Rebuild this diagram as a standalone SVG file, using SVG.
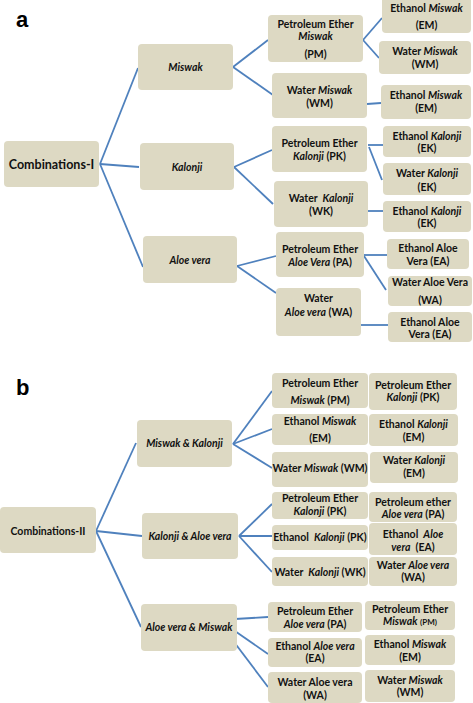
<svg xmlns="http://www.w3.org/2000/svg" width="473" height="703" viewBox="0 0 473 703">
<style>
.bx{fill:#DDD9C3;}
text{font-family:Lato,"Open Sans","Liberation Sans",sans-serif;font-weight:bold;font-size:10.5px;fill:#111;text-anchor:middle;}
.i{font-style:italic;}
.big{font-size:12.5px;}
.lbl{font-family:"Liberation Sans",Arial,sans-serif;font-size:22px;text-anchor:start;fill:#000;}
.sm{font-size:8px;}
#connectors line{stroke:#4F81BD;stroke-width:1.8;fill:none;}
</style>
<rect width="473" height="703" fill="#fff"/>
<text class="lbl" x="16" y="27">a</text>
<text class="lbl" x="16" y="395">b</text>

<g id="connectors">
<line x1="100" y1="164" x2="138" y2="68"/>
<line x1="100" y1="164" x2="139" y2="167"/>
<line x1="100" y1="164" x2="143" y2="267"/>
<line x1="233" y1="67" x2="268" y2="40"/>
<line x1="233" y1="67" x2="273" y2="95"/>
<line x1="363" y1="40" x2="382" y2="18"/>
<line x1="363" y1="40" x2="379" y2="58"/>
<line x1="367" y1="104" x2="381" y2="103"/>
<line x1="234" y1="167" x2="272" y2="150"/>
<line x1="234" y1="167" x2="273" y2="204"/>
<line x1="368" y1="145" x2="383" y2="145"/>
<line x1="369" y1="147" x2="382" y2="180"/>
<line x1="368" y1="211" x2="383" y2="211"/>
<line x1="237" y1="266" x2="276" y2="256"/>
<line x1="237" y1="266" x2="276" y2="293"/>
<line x1="364" y1="255" x2="387" y2="255"/>
<line x1="364" y1="256" x2="386" y2="290"/>
<line x1="361" y1="325" x2="388" y2="325"/>
<line x1="96" y1="531" x2="136" y2="443"/>
<line x1="96" y1="531" x2="142" y2="536"/>
<line x1="96" y1="531" x2="141" y2="627"/>
<line x1="233" y1="444" x2="272" y2="391"/>
<line x1="233" y1="444" x2="272" y2="429"/>
<line x1="233" y1="444" x2="272" y2="468"/>
<line x1="239" y1="536" x2="272" y2="504"/>
<line x1="239" y1="536" x2="272" y2="536"/>
<line x1="239" y1="536" x2="272" y2="572"/>
<line x1="235" y1="619" x2="268" y2="617"/>
<line x1="232" y1="629" x2="268" y2="654"/>
<line x1="231" y1="638" x2="268" y2="687"/>
</g>

<g id="combI"><rect class="bx" x="4" y="141" width="95" height="46" rx="4"/><text class="big" x="51.5" y="168.5">Combinations-I</text></g>
<g id="miswak"><rect class="bx" x="138" y="44" width="95" height="46" rx="4"/><text class="i" x="185.5" y="71">Miswak</text></g>
<g id="kalonji"><rect class="bx" x="140" y="143" width="94" height="47" rx="4"/><text class="i" x="187" y="170.5">Kalonji</text></g>
<g id="aloevera"><rect class="bx" x="143" y="236" width="94" height="47" rx="4"/><text class="i" x="190" y="263.5">Aloe vera</text></g>

<g id="a-pm"><rect class="bx" x="268" y="15" width="95" height="47" rx="4"/><text x="315.5" y="27.5">Petroleum Ether</text><text class="i" x="315.5" y="39.5">Miswak</text><text x="315.5" y="57.5">(PM)</text></g>
<g id="a-em1"><rect class="bx" x="382" y="-3" width="89" height="36" rx="4"/><text x="426.5" y="11.5">Ethanol <tspan class="i">Miswak</tspan></text><text x="426.5" y="28.5">(EM)</text></g>
<g id="a-wm1"><rect class="bx" x="379" y="41" width="92" height="33" rx="4"/><text x="425" y="54.5">Water <tspan class="i">Miswak</tspan></text><text x="425" y="67.5">(WM)</text></g>
<g id="a-wm"><rect class="bx" x="272" y="73" width="95" height="45" rx="4"/><text x="319.5" y="93.5">Water <tspan class="i">Miswak</tspan></text><text x="319.5" y="106.5">(WM)</text></g>
<g id="a-em2"><rect class="bx" x="381" y="85" width="90" height="34" rx="4"/><text x="426" y="98.5">Ethanol <tspan class="i">Miswak</tspan></text><text x="426" y="111.5">(EM)</text></g>
<g id="a-pk"><rect class="bx" x="272" y="126" width="95" height="46" rx="4"/><text x="319.5" y="146.5">Petroleum Ether</text><text x="319.5" y="159.5"><tspan class="i">Kalonji</tspan> (PK)</text></g>
<g id="a-ek1"><rect class="bx" x="383" y="126" width="88" height="31" rx="4"/><text x="427" y="139.5">Ethanol <tspan class="i">Kalonji</tspan></text><text x="427" y="151.5">(EK)</text></g>
<g id="a-wek"><rect class="bx" x="383" y="163" width="88" height="32" rx="4"/><text x="427" y="177">Water <tspan class="i">Kalonji</tspan></text><text x="427" y="190.5">(EK)</text></g>
<g id="a-wk"><rect class="bx" x="274" y="181" width="94" height="46" rx="4"/><text x="321" y="201.5" xml:space="preserve">Water  <tspan class="i">Kalonji</tspan></text><text x="321" y="214.5">(WK)</text></g>
<g id="a-ek2"><rect class="bx" x="383" y="201" width="88" height="31" rx="4"/><text x="427" y="214.5">Ethanol <tspan class="i">Kalonji</tspan></text><text x="427" y="227">(EK)</text></g>
<g id="a-pa"><rect class="bx" x="276" y="232" width="88" height="45" rx="4"/><text x="320" y="252.5">Petroleum Ether</text><text x="320" y="265.5"><tspan class="i">Aloe Vera</tspan> (PA)</text></g>
<g id="a-ea1"><rect class="bx" x="387" y="239" width="82" height="30" rx="4"/><text x="428" y="251.5">Ethanol Aloe</text><text x="428" y="264.5">Vera (EA)</text></g>
<g id="a-wa1"><rect class="bx" x="388" y="276" width="84" height="30" rx="4"/><text x="430" y="285.5">Water Aloe Vera</text><text x="430" y="303.5">(WA)</text></g>
<g id="a-wa"><rect class="bx" x="276" y="288" width="85" height="48" rx="4"/><text x="318.5" y="301.5">Water</text><text x="318.5" y="315.5"><tspan class="i">Aloe vera</tspan> (WA)</text></g>
<g id="a-ea2"><rect class="bx" x="388" y="312" width="84" height="30" rx="4"/><text x="430" y="325.5">Ethanol Aloe</text><text x="430" y="338">Vera (EA)</text></g>

<g id="combII"><rect class="bx" x="0" y="507" width="96" height="46" rx="4"/><text x="48" y="534.5">Combinations-II</text></g>
<g id="mk"><rect class="bx" x="137" y="420" width="95" height="47" rx="4"/><text class="i" x="184.5" y="446.5">Miswak &amp; Kalonji</text></g>
<g id="ka"><rect class="bx" x="142" y="513" width="96" height="46" rx="4"/><text class="i" x="190" y="539.5">Kalonji &amp; Aloe vera</text></g>
<g id="am"><rect class="bx" x="141" y="604" width="96" height="47" rx="4"/><text class="i" x="189" y="630.5">Aloe vera &amp; Miswak</text></g>

<g id="b-pm"><rect class="bx" x="272" y="373" width="96" height="35" rx="4"/><text x="320" y="386.5">Petroleum Ether</text><text x="320" y="403.5"><tspan class="i">Miswak</tspan> (PM)</text></g>
<g id="b-pk"><rect class="bx" x="369" y="373" width="88" height="37" rx="4"/><text x="413" y="388.5">Petroleum Ether</text><text x="413" y="400.5"><tspan class="i">Kalonji</tspan> (PK)</text></g>
<g id="b-em"><rect class="bx" x="272" y="414" width="96" height="31" rx="4"/><text x="320" y="424.5">Ethanol <tspan class="i">Miswak</tspan></text><text x="320" y="441.5">(EM)</text></g>
<g id="b-ek"><rect class="bx" x="369" y="414" width="89" height="32" rx="4"/><text x="413.5" y="427.5">Ethanol <tspan class="i">Kalonji</tspan></text><text x="413.5" y="440.5">(EM)</text></g>
<g id="b-wm"><rect class="bx" x="272" y="452" width="96" height="35" rx="4"/><text x="320" y="471.5">Water <tspan class="i">Miswak</tspan> (WM)</text></g>
<g id="b-wk"><rect class="bx" x="370" y="452" width="88" height="31" rx="4"/><text x="414" y="463.5">Water <tspan class="i">Kalonji</tspan></text><text x="414" y="476.5">(EM)</text></g>
<g id="b-pk2"><rect class="bx" x="272" y="492" width="96" height="27" rx="4"/><text x="320" y="501.5">Petroleum Ether</text><text x="320" y="515"><tspan class="i">Kalonji</tspan> (PK)</text></g>
<g id="b-pa"><rect class="bx" x="369" y="492" width="88" height="30" rx="4"/><text x="413" y="505.5">Petroleum ether</text><text x="413" y="517.5"><tspan class="i">Aloe vera</tspan> (PA)</text></g>
<g id="b-ethk"><rect class="bx" x="272" y="525" width="96" height="25" rx="4"/><text x="320" y="540.5" xml:space="preserve">Ethanol  <tspan class="i">Kalonji</tspan> (PK)</text></g>
<g id="b-ea"><rect class="bx" x="369" y="523" width="88" height="32" rx="4"/><text x="413" y="537.5" xml:space="preserve">Ethanol  <tspan class="i">Aloe</tspan></text><text x="413" y="550.5" xml:space="preserve"><tspan class="i">vera</tspan>  (EA)</text></g>
<g id="b-wk2"><rect class="bx" x="272" y="557" width="96" height="29" rx="4"/><text x="320" y="575.5" xml:space="preserve">Water  <tspan class="i">Kalonji</tspan> (WK)</text></g>
<g id="b-wa"><rect class="bx" x="369" y="557" width="88" height="29" rx="4"/><text x="413" y="568.5">Water <tspan class="i">Aloe vera</tspan></text><text x="413" y="580.5">(WA)</text></g>
<g id="b-pa2"><rect class="bx" x="268" y="602" width="94" height="30" rx="4"/><text x="315" y="614.5">Petroleum Ether</text><text x="315" y="627.5"><tspan class="i">Aloe vera</tspan> (PA)</text></g>
<g id="b-pm2"><rect class="bx" x="365" y="601" width="90" height="29" rx="4"/><text x="410" y="612.5">Petroleum Ether</text><text x="410" y="624.5"><tspan class="i">Miswak</tspan> <tspan class="sm">(PM)</tspan></text></g>
<g id="b-ea2"><rect class="bx" x="268" y="638" width="94" height="29" rx="4"/><text x="315" y="649.5">Ethanol <tspan class="i">Aloe vera</tspan></text><text x="315" y="661.5">(EA)</text></g>
<g id="b-em2"><rect class="bx" x="365" y="635" width="90" height="30" rx="4"/><text x="410" y="647.5">Ethanol <tspan class="i">Miswak</tspan></text><text x="410" y="660.5">(EM)</text></g>
<g id="b-wa2"><rect class="bx" x="268" y="672" width="94" height="31" rx="4"/><text x="315" y="686">Water Aloe vera</text><text x="315" y="699">(WA)</text></g>
<g id="b-wm2"><rect class="bx" x="365" y="670" width="90" height="32" rx="4"/><text x="410" y="683.5">Water <tspan class="i">Miswak</tspan></text><text x="410" y="695.5">(WM)</text></g>
</svg>
